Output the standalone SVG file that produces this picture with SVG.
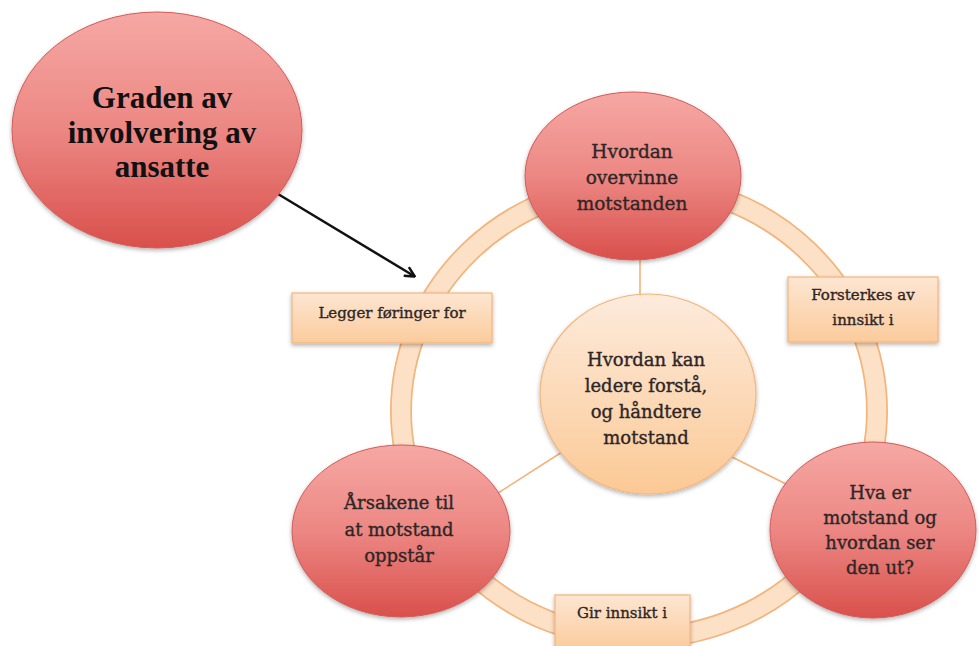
<svg xmlns="http://www.w3.org/2000/svg" width="979" height="646" viewBox="0 0 979 646">
  <defs>
    <linearGradient id="gRed" x1="0" y1="0" x2="0" y2="1">
      <stop offset="0" stop-color="#f6a8a4"/>
      <stop offset="0.5" stop-color="#ec8783"/>
      <stop offset="1" stop-color="#d9504c"/>
    </linearGradient>
    <linearGradient id="gPeach" x1="0" y1="0" x2="0" y2="1">
      <stop offset="0" stop-color="#fdebdc"/>
      <stop offset="1" stop-color="#fbc995"/>
    </linearGradient>
    <linearGradient id="gBox" x1="0" y1="0" x2="0" y2="1">
      <stop offset="0" stop-color="#fde6d2"/>
      <stop offset="1" stop-color="#fbcb9c"/>
    </linearGradient>
    <filter id="sh" x="-20%" y="-20%" width="140%" height="150%">
      <feDropShadow dx="0" dy="2" stdDeviation="2" flood-color="#000" flood-opacity="0.3"/>
    </filter>
    <marker id="arr" markerWidth="12" markerHeight="12" viewBox="0 0 12 12" refX="10" refY="6" orient="auto" markerUnits="userSpaceOnUse">
      <path d="M1,1 L11,6 L1,11" fill="none" stroke="#111" stroke-width="2.5" stroke-linejoin="miter"/>
    </marker>
    <style>
      .red { fill: url(#gRed); stroke: #d35a56; stroke-width: 1; filter: url(#sh); }
      .peach { fill: url(#gPeach); stroke: #f3b57c; stroke-width: 1.2; filter: url(#sh); }
      .box { fill: url(#gBox); stroke: #f3b57c; stroke-width: 1.2; filter: url(#sh); }
      .t { font-family: "DejaVu Serif", "Liberation Serif", serif; fill: #2e2626; stroke: #2e2626; stroke-width: 0.35; text-anchor: middle; }
      .big { font-family: "Liberation Serif", "Times New Roman", serif; font-weight: bold; font-size: 31px; fill: #111; text-anchor: middle; }
      .link { stroke: #f4b27a; stroke-width: 1.6; fill: none; }
    </style>
  </defs>

  <rect width="979" height="646" fill="#ffffff"/>

  <g id="connectors">
    <ellipse cx="639" cy="411" rx="238" ry="227" fill="none" stroke="#f3b57e" stroke-width="22"/>
    <ellipse cx="639" cy="411" rx="238" ry="227" fill="none" stroke="#fde1c7" stroke-width="18.5"/>
    <line class="link" x1="640" y1="255" x2="640" y2="298"/>
    <line class="link" x1="562" y1="452" x2="495" y2="495"/>
    <line class="link" x1="728" y1="455" x2="792" y2="487"/>
    <line x1="278" y1="194" x2="414" y2="276" stroke="#111" stroke-width="2.5" marker-end="url(#arr)"/>
  </g>

  <g id="center">
    <ellipse class="peach" cx="648" cy="394" rx="108" ry="100"/>
    <text class="t" font-size="18" x="646" y="366">Hvordan kan</text>
    <text class="t" font-size="18" x="646" y="392">ledere forstå,</text>
    <text class="t" font-size="18" x="646" y="418">og håndtere</text>
    <text class="t" font-size="18" x="646" y="444">motstand</text>
  </g>

  <g id="top">
    <ellipse class="red" cx="633" cy="176" rx="108" ry="84"/>
    <text class="t" font-size="18.5" x="632" y="158">Hvordan</text>
    <text class="t" font-size="18.5" x="632" y="184">overvinne</text>
    <text class="t" font-size="18.5" x="632" y="210">motstanden</text>
  </g>

  <g id="bottomleft">
    <ellipse class="red" cx="401" cy="531" rx="109" ry="86"/>
    <text class="t" font-size="18" x="399" y="509">Årsakene til</text>
    <text class="t" font-size="18" x="399" y="536">at motstand</text>
    <text class="t" font-size="18" x="399" y="562">oppstår</text>
  </g>

  <g id="bottomright">
    <ellipse class="red" cx="873" cy="530" rx="103" ry="88"/>
    <text class="t" font-size="18" x="880" y="499">Hva er</text>
    <text class="t" font-size="18" x="880" y="524">motstand og</text>
    <text class="t" font-size="18" x="880" y="549">hvordan ser</text>
    <text class="t" font-size="18" x="880" y="574">den ut?</text>
  </g>

  <g id="graden">
    <ellipse class="red" cx="157" cy="130" rx="145" ry="118"/>
    <text class="big" x="162" y="108">Graden av</text>
    <text class="big" x="162" y="143">involvering av</text>
    <text class="big" x="162" y="177">ansatte</text>
  </g>

  <g id="box-legger">
    <rect class="box" x="292" y="293" width="200" height="50"/>
    <text class="t" font-size="15" x="392" y="318">Legger føringer for</text>
  </g>

  <g id="box-forsterkes">
    <rect class="box" x="788" y="277" width="150" height="65"/>
    <text class="t" font-size="15" x="863" y="300">Forsterkes av</text>
    <text class="t" font-size="15" x="863" y="325">innsikt i</text>
  </g>

  <g id="box-gir">
    <rect class="box" x="555" y="595" width="135" height="55"/>
    <text class="t" font-size="15" x="622" y="618">Gir innsikt i</text>
  </g>
</svg>
